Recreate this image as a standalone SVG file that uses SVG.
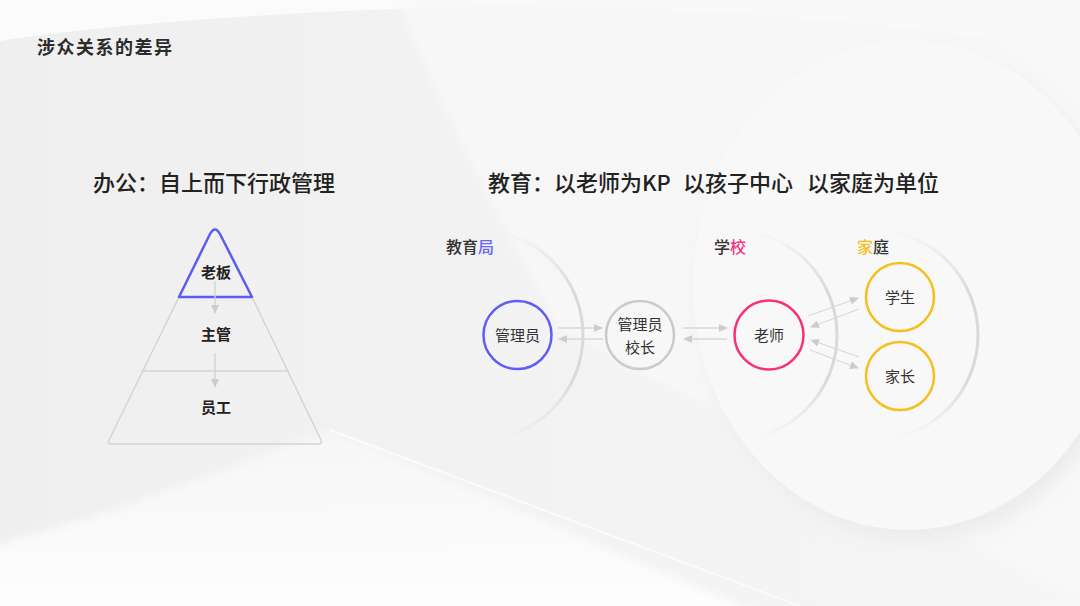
<svg xmlns="http://www.w3.org/2000/svg" width="1080" height="606" viewBox="0 0 1080 606">
<defs>
  <style>
    .t{font-family:"Noto Sans CJK SC","Noto Sans",sans-serif;fill:#2b2b2b}
    .h{font-size:22px;font-weight:500;fill:#222}
    .lbl{font-size:16px;font-weight:500;fill:#333}
    .node{font-size:15px;fill:#333;text-anchor:middle}
    .pyr{font-size:15px;font-weight:700;fill:#222;text-anchor:middle}
    .pline{fill:none;stroke:#d3d3d3;stroke-width:1.5;stroke-linejoin:round}
    .arr{stroke:#d9d9d9;stroke-width:1.3;fill:none;marker-end:url(#ah)}
    .parr{stroke:#d2d2d2;stroke-width:1.3;fill:none;marker-end:url(#ah)}
    .ring{fill:none;stroke-width:3;stroke-linecap:round}
  </style>
  <marker id="ah" markerUnits="userSpaceOnUse" markerWidth="9" markerHeight="8" refX="8" refY="4" orient="auto">
    <path d="M0,0 L9,4 L0,8 Z" fill="#cdcdcd"/>
  </marker>
  <linearGradient id="bg" x1="0" y1="0" x2="1" y2="0">
    <stop offset="0" stop-color="#efefef"/>
    <stop offset="1" stop-color="#f6f6f6"/>
  </linearGradient>
  <linearGradient id="arcg" x1="0" y1="0" x2="0" y2="1">
    <stop offset="0" stop-color="#d9d9d9" stop-opacity="0"/>
    <stop offset="0.3" stop-color="#d9d9d9" stop-opacity="1"/>
    <stop offset="0.7" stop-color="#d9d9d9" stop-opacity="1"/>
    <stop offset="1" stop-color="#d9d9d9" stop-opacity="0"/>
  </linearGradient>
  <linearGradient id="btm" x1="0" y1="0" x2="0" y2="1">
    <stop offset="0" stop-color="#fafafa" stop-opacity="0.6"/>
    <stop offset="1" stop-color="#ffffff"/>
  </linearGradient>
  <filter id="soft" x="-20%" y="-20%" width="140%" height="140%">
    <feGaussianBlur stdDeviation="10"/>
  </filter>
  <filter id="soft2" x="-20%" y="-20%" width="140%" height="140%">
    <feGaussianBlur stdDeviation="4"/>
  </filter>
</defs>

<g id="background">
  <rect width="1080" height="606" fill="url(#bg)"/>
  <path d="M-20,-20 H1100 V55 C900,20 650,0 420,8 C250,14 100,25 -20,44 Z" fill="#fbfbfb"/>
  <path d="M385,-30 C430,90 500,220 560,330 L1100,610 V-30 Z" fill="#f9f9f9" opacity="0.7" filter="url(#soft2)"/>
  <path d="M-30,552 C150,505 270,450 330,430 L820,640 L-30,640 Z" fill="url(#btm)" filter="url(#soft2)"/>
  <path d="M330,430 L800,606" stroke="#ffffff" stroke-width="1.5" fill="none" opacity="0.8"/>
  <ellipse cx="915" cy="295" rx="215" ry="245" fill="#ebebeb" filter="url(#soft)"/>
  <ellipse cx="908" cy="285" rx="215" ry="245" fill="#f8f8f8"/>
</g>

<text class="t" x="37" y="54" font-size="18" font-weight="700" letter-spacing="1.5" fill="#1e1e1e">涉众关系的差异</text>

<text class="t h" x="93" y="191">办公：自上而下行政管理</text>
<text class="t h" y="191"><tspan x="488">教育：以老师为KP</tspan><tspan x="683">以孩子中心</tspan><tspan x="807">以家庭为单位</tspan></text>

<g id="pyramid">
  <g id="pyr-staff">
    <path class="pline" d="M179,297 L109,440 Q107,444 112,444 L318,444 Q323,444 321,440 L252,297"/>
    <path class="pline" d="M143,371 H288"/>
    <text class="t pyr" x="216" y="413">员工</text>
  </g>
  <g id="pyr-manager">
    <text class="t pyr" x="216" y="340">主管</text>
  </g>
  <g id="pyr-boss">
    <path d="M179,297 L210,234 Q215,225 220,234 L252,297 Z" fill="none" stroke="#5c5cf4" stroke-width="2.5" stroke-linejoin="round"/>
    <text class="t pyr" x="216" y="278">老板</text>
  </g>
</g>

<g id="scopes">
  <g id="scope-bureau">
    <path class="ring" d="M478,230 A105,105 0 0 1 478,440" stroke="url(#arcg)"/>
    <text class="t lbl" x="446" y="253">教育<tspan fill="#6766f6">局</tspan></text>
  </g>
  <g id="scope-school">
    <path class="ring" d="M732,230 A105,105 0 0 1 732,440" stroke="url(#arcg)"/>
    <text class="t lbl" x="714" y="253">学<tspan fill="#f5317d">校</tspan></text>
  </g>
  <g id="scope-family">
    <path class="ring" d="M873,230 A105,105 0 0 1 873,440" stroke="url(#arcg)"/>
    <text class="t lbl" x="857" y="253"><tspan fill="#f4bc1c">家</tspan>庭</text>
  </g>
</g>

<g id="connectors">
  <path class="parr" d="M215,281 V313"/>
  <path class="parr" d="M215,353 V387"/>
  <path class="arr" d="M558,328 H602"/>
  <path class="arr" d="M603,339 H559"/>
  <path class="arr" d="M683,328 H727"/>
  <path class="arr" d="M727,339 H684"/>
  <path class="arr" d="M808,316 L858,298"/>
  <path class="arr" d="M859,309 L811,327"/>
  <path class="arr" d="M859,357 L811,340"/>
  <path class="arr" d="M810,350 L858,368"/>
</g>

<g id="node-admin">
  <circle cx="517.5" cy="335" r="34" fill="none" stroke="#5e5cf5" stroke-width="2.5"/>
  <text class="t node" x="517.5" y="341">管理员</text>
</g>
<g id="node-principal">
  <circle cx="640" cy="335" r="34" fill="none" stroke="#cacaca" stroke-width="2.5"/>
  <text class="t node" x="640" y="330">管理员</text>
  <text class="t node" x="640" y="353">校长</text>
</g>
<g id="node-teacher">
  <circle cx="769" cy="335" r="34.5" fill="none" stroke="#f8307c" stroke-width="2.5"/>
  <text class="t node" x="769" y="341">老师</text>
</g>
<g id="node-student">
  <circle cx="900" cy="297" r="34" fill="none" stroke="#f5bf1e" stroke-width="2.5"/>
  <text class="t node" x="900" y="303">学生</text>
</g>
<g id="node-parent">
  <circle cx="900" cy="376" r="34" fill="none" stroke="#f5bf1e" stroke-width="2.5"/>
  <text class="t node" x="900" y="382">家长</text>
</g>
</svg>
